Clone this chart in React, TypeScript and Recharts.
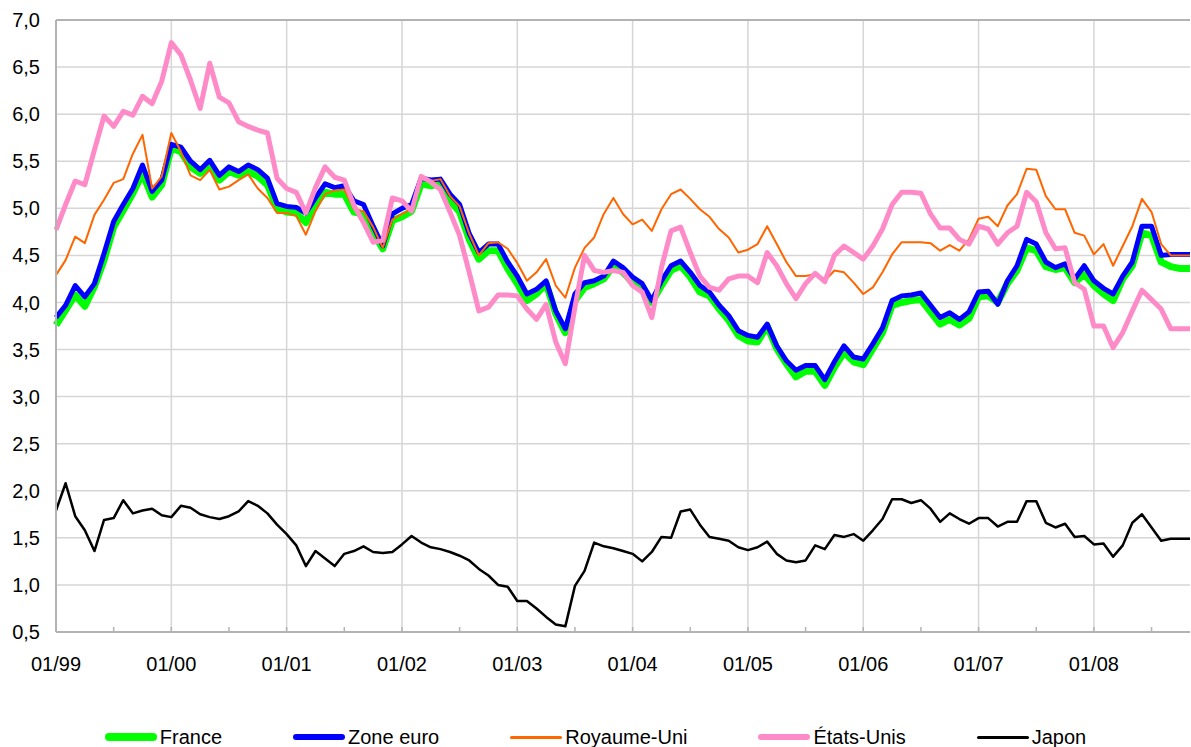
import React from 'react';
import { LineChart, Line, XAxis, YAxis, CartesianGrid, ReferenceLine } from 'recharts';

// monthly, 01/99 .. 11/08
const years = ['99', '00', '01', '02', '03', '04', '05', '06', '07', '08'];
const monthNums = ['01', '02', '03', '04', '05', '06', '07', '08', '09', '10', '11', '12'];
const months = years.flatMap((y) => monthNums.map((m) => `${m}/${y}`)).slice(0, 119);

const france = [
  3.76, 3.92, 4.08, 3.96, 4.17, 4.45, 4.8, 4.98, 5.16, 5.37, 5.12, 5.25,
  5.64, 5.6, 5.44, 5.37, 5.46, 5.3, 5.39, 5.35, 5.39, 5.34, 5.25, 5.0,
  4.96, 4.95, 4.85, 5.05, 5.17, 5.15, 5.15, 4.96, 4.94, 4.74, 4.57, 4.87,
  4.91, 4.97, 5.26, 5.24, 5.26, 5.08, 4.96, 4.67, 4.46, 4.55, 4.55, 4.36,
  4.2, 4.02, 4.09, 4.2, 3.88, 3.68, 4.02, 4.16, 4.2, 4.25, 4.39, 4.32,
  4.21, 4.14, 4.0, 4.18, 4.34, 4.39, 4.27, 4.11, 4.07, 3.93, 3.81, 3.65,
  3.59, 3.58, 3.75, 3.51, 3.35, 3.21, 3.27, 3.27, 3.12, 3.31, 3.47, 3.37,
  3.34, 3.51, 3.68, 3.97, 4.0, 4.02, 4.03, 3.9, 3.77, 3.82, 3.76, 3.83,
  4.06, 4.07, 4.0, 4.2, 4.34, 4.58, 4.55, 4.38, 4.35, 4.37, 4.21, 4.3,
  4.18, 4.09, 4.02, 4.25, 4.39, 4.74, 4.71, 4.43, 4.38, 4.36, 4.36,
];

const zoneEuro = [
  3.84, 3.97, 4.18, 4.06, 4.2, 4.52, 4.86, 5.04, 5.21, 5.46, 5.18, 5.3,
  5.68, 5.65, 5.5, 5.41, 5.51, 5.35, 5.44, 5.39, 5.46, 5.41, 5.32, 5.05,
  5.02, 5.01, 4.95, 5.11, 5.26, 5.22, 5.24, 5.08, 5.04, 4.81, 4.6, 4.94,
  5.0, 5.04, 5.32, 5.3, 5.31, 5.15, 5.04, 4.73, 4.53, 4.62, 4.62, 4.43,
  4.28, 4.09, 4.14, 4.23, 3.91, 3.72, 4.09, 4.21, 4.23, 4.28, 4.44, 4.37,
  4.27, 4.2, 4.02, 4.23, 4.39, 4.44, 4.32, 4.18, 4.11, 3.97, 3.86, 3.7,
  3.65, 3.63, 3.77, 3.54, 3.38, 3.28, 3.33, 3.33, 3.18, 3.37, 3.54, 3.42,
  3.4, 3.56, 3.73, 4.02, 4.07, 4.08, 4.1, 3.97, 3.84, 3.89, 3.82, 3.9,
  4.11, 4.12, 3.98, 4.23, 4.39, 4.67, 4.62, 4.43, 4.37, 4.41, 4.25, 4.39,
  4.23, 4.15, 4.09, 4.28, 4.43, 4.81, 4.81, 4.5, 4.51, 4.51, 4.51,
];

const royaumeUni = [
  4.29, 4.45, 4.7, 4.63, 4.93, 5.09, 5.27, 5.31, 5.58, 5.78, 5.21, 5.34,
  5.8, 5.6, 5.35, 5.3, 5.41, 5.2, 5.23, 5.3, 5.36, 5.21, 5.11, 4.95,
  4.95, 4.92, 4.72, 4.97, 5.15, 5.19, 5.2, 4.99, 4.97, 4.8, 4.58, 4.88,
  4.94, 4.99, 5.31, 5.29, 5.31, 5.13, 5.02, 4.73, 4.5, 4.63, 4.64, 4.57,
  4.42, 4.23, 4.32, 4.46, 4.18, 4.05, 4.37, 4.58, 4.69, 4.94, 5.11, 4.94,
  4.83, 4.88, 4.76, 4.99, 5.15, 5.2, 5.1, 4.99, 4.91, 4.78, 4.69, 4.53,
  4.56, 4.62, 4.81, 4.62, 4.43, 4.28, 4.28, 4.3, 4.23, 4.34, 4.32, 4.21,
  4.09, 4.16, 4.32, 4.51, 4.64, 4.64, 4.64, 4.63, 4.55, 4.61, 4.55, 4.67,
  4.89, 4.91, 4.81, 5.03, 5.15, 5.42, 5.41, 5.13, 4.99, 4.99, 4.74, 4.71,
  4.51, 4.62, 4.39, 4.6, 4.81, 5.1, 4.96, 4.62, 4.5, 4.5, 4.5,
];

const etatsUnis = [
  4.77, 5.04, 5.29, 5.25, 5.62, 5.98, 5.87, 6.03, 5.99, 6.19, 6.11, 6.35,
  6.76, 6.63, 6.36, 6.06, 6.54, 6.18, 6.12, 5.92, 5.87, 5.83, 5.8, 5.32,
  5.21, 5.17, 4.95, 5.22, 5.44, 5.33, 5.3, 5.03, 4.85, 4.64, 4.66, 5.11,
  5.08, 4.97, 5.34, 5.28, 5.2, 4.96, 4.71, 4.32, 3.91, 3.95, 4.08, 4.08,
  4.07, 3.93, 3.82, 3.98, 3.58, 3.35, 3.95, 4.5, 4.34, 4.32, 4.34, 4.32,
  4.18, 4.11, 3.84, 4.37, 4.76, 4.8, 4.53, 4.28, 4.16, 4.13, 4.25, 4.28,
  4.28, 4.21, 4.53, 4.39, 4.2, 4.04, 4.2, 4.31, 4.22, 4.5, 4.6, 4.53,
  4.46, 4.6, 4.78, 5.04, 5.17, 5.17, 5.16, 4.94, 4.79, 4.79, 4.67, 4.62,
  4.81, 4.78, 4.62, 4.74, 4.81, 5.17, 5.07, 4.74, 4.57, 4.58, 4.21, 4.14,
  3.75, 3.75, 3.52, 3.68, 3.91, 4.13, 4.03, 3.93, 3.72, 3.72, 3.72,
];

const japon = [
  1.79, 2.08, 1.73, 1.58, 1.36, 1.69, 1.71, 1.9, 1.76, 1.79, 1.81, 1.74,
  1.72, 1.84, 1.82, 1.75, 1.72, 1.7, 1.73, 1.78, 1.89, 1.84, 1.76, 1.64,
  1.54, 1.42, 1.2, 1.36, 1.28, 1.2, 1.33, 1.36, 1.41, 1.35, 1.34, 1.35,
  1.43, 1.52, 1.45, 1.4, 1.38, 1.35, 1.31, 1.26, 1.17, 1.1, 1.0, 0.98,
  0.83, 0.83, 0.75, 0.66, 0.58, 0.56, 0.99, 1.15, 1.45, 1.41, 1.39, 1.36,
  1.33, 1.25, 1.35, 1.51, 1.5, 1.78, 1.8, 1.64, 1.51, 1.49, 1.47, 1.4,
  1.37, 1.4, 1.46, 1.33, 1.26, 1.24, 1.26, 1.42, 1.38, 1.53, 1.51, 1.54,
  1.47, 1.58, 1.7, 1.91, 1.91, 1.87, 1.9, 1.81, 1.67, 1.76, 1.7, 1.65,
  1.71, 1.71, 1.62, 1.67, 1.67, 1.89, 1.89, 1.66, 1.61, 1.65, 1.51, 1.52,
  1.43, 1.44, 1.3, 1.42, 1.66, 1.75, 1.61, 1.47, 1.49, 1.49, 1.49,
];

const yTicks = [0.5, 1, 1.5, 2, 2.5, 3, 3.5, 4, 4.5, 5, 5.5, 6, 6.5, 7];
const halfYearTicks = months.map((_, i) => i).filter((i) => i % 6 === 0);
const yearTicks = halfYearTicks.filter((i) => i % 12 === 0 && i > 0);

const series = [
  { key: 'france', name: 'France', color: '#00ff00', width: 7, legend: 8 },
  { key: 'zoneEuro', name: 'Zone euro', color: '#0000ff', width: 5, legend: 6 },
  { key: 'royaumeUni', name: 'Royaume-Uni', color: '#ff6600', width: 2, legend: 3 },
  { key: 'etatsUnis', name: 'États-Unis', color: '#ff8ac8', width: 5, legend: 6 },
  { key: 'japon', name: 'Japon', color: '#000000', width: 2.5, legend: 3 },
];

const data = months.map((m, i) => ({
  i,
  month: m,
  france: france[i],
  zoneEuro: zoneEuro[i],
  royaumeUni: royaumeUni[i],
  etatsUnis: etatsUnis[i],
  japon: japon[i],
}));

const AXIS = '#b3b3b3';
const GRID = '#d6d6d6';
const FONT = '"Liberation Sans", Arial, sans-serif';

const MonthTick = (props: any) => {
  const { x, y, payload } = props;
  const idx = payload.value as number;
  return (
    <g>
      <line x1={x} x2={x} y1={y} y2={y - 5} stroke={AXIS} strokeWidth={1.5} />
      {idx % 12 === 0 && (
        <text x={x} y={y + 39} textAnchor="middle" fontSize={20} fill="#000">
          {months[idx]}
        </text>
      )}
    </g>
  );
};

export default function App() {
  return (
    <div style={{ position: 'absolute', left: 0, top: 0, width: 1191, height: 747, fontFamily: FONT, background: '#fff' }}>
      <LineChart width={1191} height={747} data={data} margin={{ top: 20, right: 1, left: 0, bottom: 0 }}>
        <CartesianGrid vertical={false} stroke={GRID} strokeWidth={1.5} />
        {yearTicks.map((t) => (
          <ReferenceLine key={t} x={t} stroke={GRID} strokeWidth={1.5} />
        ))}
        <ReferenceLine y={7} stroke={AXIS} strokeWidth={2} />
        <XAxis
          dataKey="i"
          type="number"
          domain={[0, 118]}
          ticks={halfYearTicks}
          interval={0}
          height={115}
          tickSize={0}
          tickMargin={0}
          tickLine={false}
          axisLine={{ stroke: AXIS, strokeWidth: 2 }}
          tick={<MonthTick />}
        />
        <YAxis
          domain={[0.5, 7]}
          ticks={yTicks}
          interval={0}
          width={56}
          tickSize={0}
          tickMargin={16}
          tickLine={false}
          axisLine={{ stroke: AXIS, strokeWidth: 2 }}
          tick={{ fill: '#000', fontSize: 20 }}
          tickFormatter={(v: number) => v.toFixed(1).replace('.', ',')}
        />
        {series.map((s) => (
          <Line
            key={s.key}
            dataKey={s.key}
            name={s.name}
            type="linear"
            stroke={s.color}
            strokeWidth={s.width}
            strokeLinejoin="round"
            dot={false}
            activeDot={false}
            isAnimationActive={false}
          />
        ))}
      </LineChart>
      <div
        style={{
          position: 'absolute',
          left: 0,
          top: 724,
          width: 1191,
          height: 26,
          display: 'flex',
          justifyContent: 'center',
          alignItems: 'center',
          gap: 71,
          fontSize: 20,
          color: '#000',
        }}
      >
        {series.map((s) => (
          <div key={s.key} style={{ display: 'flex', alignItems: 'center' }}>
            <span
              style={{
                display: 'inline-block',
                width: 52,
                height: s.legend,
                background: s.color,
                borderRadius: s.legend / 2,
                marginRight: 3,
              }}
            />
            <span style={{ lineHeight: '26px' }}>{s.name}</span>
          </div>
        ))}
      </div>
    </div>
  );
}
